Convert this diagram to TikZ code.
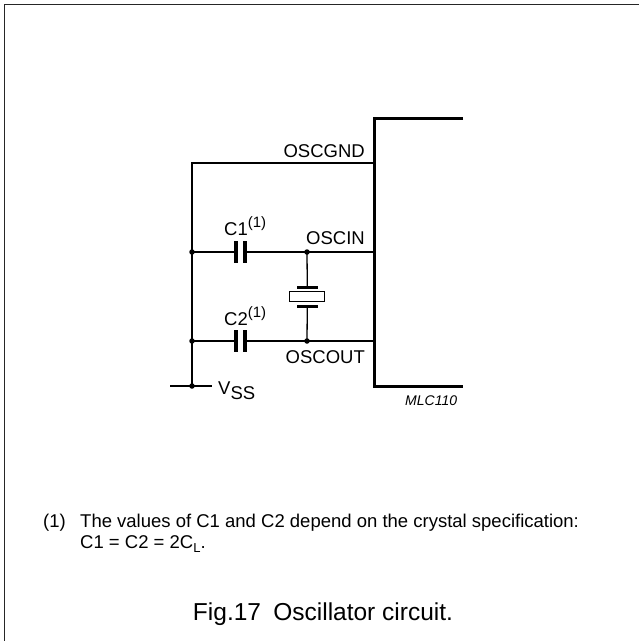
\documentclass[tikz,border=0pt]{standalone}
\usepackage{fontspec}
\setmainfont{Liberation Sans}
\begin{document}
\begin{tikzpicture}[x=1pt,y=-1pt,
  wire/.style={line width=1.3pt},
  chip/.style={line width=3pt},
  frameline/.style={line width=1.7pt,black!85},
  jdot/.style={circle,fill=black,inner sep=0pt,minimum size=5.5pt},
  cplate/.style={fill=black,inner sep=0pt,minimum width=4.6pt,minimum height=22pt},
  xplate/.style={fill=black,inner sep=0pt,minimum width=21.6pt,minimum height=2.6pt},
  xbody/.style={draw,line width=1.3pt,inner sep=0pt,minimum width=35pt,minimum height=10.5pt},
  lbl/.style={inner sep=0pt,font=\fontsize{18.5}{22}\selectfont},
  note/.style={inner sep=0pt,font=\fontsize{18.5}{22}\selectfont},
  tag/.style={inner sep=0pt,font=\fontsize{14}{16}\selectfont\itshape},
  caption/.style={inner sep=0pt,font=\fontsize{24.5}{28}\selectfont}]
\useasboundingbox (0,0) rectangle (639,641);
% frame
\coordinate (fbl) at (4.5,641);
\coordinate (ftl) at (4.5,4.5);
\coordinate (ftr) at (639,4.5);
\draw[frameline] (fbl) -- (ftl) -- (ftr);
% chip
\coordinate (chtr) at (463,118);
\coordinate (chtl) at (374,118);
\coordinate (chbl) at (374,386);
\coordinate (chbr) at (463,386);
\draw[chip] (chtr) -- (chtl) -- (chbl) -- (chbr);
% nodes
\coordinate (gndR) at (374,163);
\coordinate (gndL) at (192,163);
\node[jdot] (inL) at (192,252) {};
\node[jdot] (inJ) at (307,252) {};
\coordinate (inR) at (374,252);
\node[jdot] (outL) at (192,341) {};
\node[jdot] (outJ) at (307,341) {};
\coordinate (outR) at (374,341);
\node[jdot] (vssJ) at (192,386) {};
\coordinate (vssW) at (170,386);
\coordinate (vssE) at (212,386);
% capacitors
\node[cplate] (c1a) at (235.8,252) {};
\node[cplate] (c1b) at (244.8,252) {};
\node[cplate] (c2a) at (235.8,341) {};
\node[cplate] (c2b) at (244.8,341) {};
% crystal
\node[xplate] (xtop) at (307.3,287.2) {};
\node[xbody] (xb) at (307.3,296.5) {};
\node[xplate] (xbot) at (307.3,306.5) {};
% wires
\draw[wire] (gndR) -- (gndL) -- (vssJ.center);
\draw[wire] (vssW) -- (vssE);
\draw[wire] (inL.center) -- (c1a.center);
\draw[wire] (c1b.center) -- (inR);
\draw[wire] (outL.center) -- (c2a.center);
\draw[wire] (c2b.center) -- (outR);
\draw[wire] (inJ.center) -- (xtop.center);
\draw[wire] (xbot.center) -- (outJ.center);
% labels
\node[lbl,anchor=base east] (lgnd) at (365,157) {OSCGND};
\node[lbl,anchor=base east] (lin) at (365,244) {OSCIN};
\node[lbl,anchor=base east] (lout) at (365,363) {OSCOUT};
\node[lbl,anchor=base west] (lc1) at (224,235) {C1\raisebox{8pt}{\fontsize{15}{15}\selectfont(1)}};
\node[lbl,anchor=base west] (lc2) at (224,325) {C2\raisebox{8pt}{\fontsize{15}{15}\selectfont(1)}};
\node[lbl,anchor=base west] (lvss) at (218,394) {V\raisebox{-5pt}{SS}};
\node[tag,anchor=base west] (ltag) at (405,405) {MLC110};
% footnote
\node[note,anchor=base west] (fn) at (43,527) {(1)};
\node[note,anchor=base west] (fn1) at (80,527) {The values of C1 and C2 depend on the crystal specification:};
\node[note,anchor=base west] (fn2) at (80,548) {C1 = C2 = 2C\raisebox{-4pt}{\fontsize{13}{13}\selectfont L}.};
% caption
\node[caption,anchor=base] (cap) at (323,620) {Fig.17\hspace{0.5em}Oscillator circuit.};
\end{tikzpicture}
\end{document}
